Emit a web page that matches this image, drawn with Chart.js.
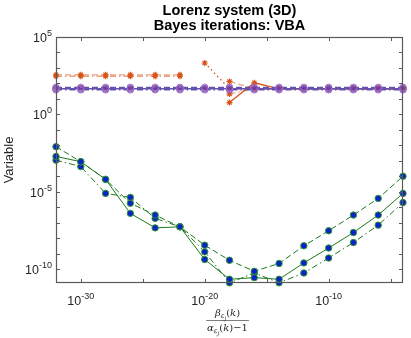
<!DOCTYPE html>
<html>
<head>
<meta charset="utf-8">
<script src="https://cdn.jsdelivr.net/npm/chart.js@4/dist/chart.umd.min.js"></script>
<style>
  html, body { margin: 0; background: #fff; }
</style>
</head>
<body>
<canvas id="chart" width="411" height="338"></canvas>
<script>
// x positions: beta/(alpha-1), every two decades
var ratioX = [1e-32, 1e-30, 1e-28, 1e-26, 1e-24, 1e-22, 1e-20, 1e-18, 1e-16, 1e-14, 1e-12, 1e-10, 1e-8, 1e-6, 1e-4];

// green (state) series
var greenDashed  = [8.1e-3, 8.7e-4, 6.3e-5, 1.8e-6, 3.1e-7, 5.4e-8, 3.5e-9, 3.7e-10, 7.2e-11, 2.3e-10, 3.2e-9, 3.0e-8, 3.1e-7, 3.7e-6, 1.0e-4];
var greenSolid   = [1.9e-3, 8.7e-4, 6.3e-5, 4.0e-7, 4.6e-8, 5.4e-8, 4.2e-10, 2.2e-11, 2.8e-11, 2.2e-11, 2.5e-10, 2.3e-9, 2.3e-8, 3.1e-7, 7.8e-6];
var greenDashDot = [1.1e-3, 4.2e-4, 7.8e-6, 4.3e-6, 1.9e-7, 5.4e-8, 1.3e-9, 1.3e-11, 5.6e-11, 1.3e-11, 5.6e-11, 5.2e-10, 5.2e-9, 6.9e-8, 2.0e-6];

// purple series
var purpleDashed  = [55, 55, 55, 55, 55, 55, 55, 55, 55, 55, 55, 55, 55, 55, 55];
var purpleSolid   = [45, 45, 45, 45, 45, 45, 45, 45, 45, 45, 45, 45, 45, 45, 45];
var purpleDashDot = [39, 39, 39, 39, 39, 39, 39, 39, 39, 39, 39, 39, 39, 39, 39];

// orange series (null = not plotted)
var orangeDashed  = [360, 360, 360, 360, 360, 360, null, 134, 45, 45, 45, 45, 45, 45, 45];
var orangeDashDot = [290, 290, 290, 290, 290, 290, null, 21, 45, 45, 45, 45, 45, 45, 45];
var orangeDotted  = [null, null, null, null, null, null, 2090, 45, 45, 45, 45, 45, 45, 45, 45];
var orangeSolid   = [null, null, null, null, null, null, null, 5.8, 110, 45, 45, 45, 45, 45, 45];

var xTicks = [1e-30, 1e-25, 1e-20, 1e-15, 1e-10, 1e-5];
var xLabels = { '-30': '-30', '-20': '-20', '-10': '-10' };
var yLabels = ['5', '0', '-5', '-10'];

function pts(vals) {
  return ratioX.map(function(x, i) { return { x: x, y: vals[i] }; });
}

var DASH = [6, 3], DASHDOT = [6, 3, 1.5, 3], DOT = [1.5, 3];
var GREEN = '#1b7a1b', PURPLE = '#6452b0', ORANGE = '#d95319';

function greenSet(vals, dash) {
  return { data: pts(vals), borderColor: GREEN, borderWidth: 1, borderDash: dash,
    pointRadius: 3.2, pointBackgroundColor: '#0b22c8', pointBorderColor: '#2e9a2e',
    pointBorderWidth: 1, clip: false };
}
function purpleSet(vals, dash) {
  return { data: pts(vals), borderColor: PURPLE, borderWidth: 1.5, borderDash: dash,
    pointRadius: 3.3, pointBackgroundColor: 'rgba(126,47,142,0.35)', pointBorderColor: '#9a6ccc',
    pointBorderWidth: 1, clip: false };
}
function orangeSet(vals, dash, alpha) {
  return { data: pts(vals), borderColor: 'rgba(217,83,25,' + alpha + ')', borderWidth: 1.3,
    borderDash: dash, pointStyle: 'star', pointRadius: 3, pointBorderColor: ORANGE,
    pointBorderWidth: 1.2, spanGaps: false, clip: false };
}

// axes box, inward ticks, 10^n labels, titles
var framePlugin = {
  id: 'frame',
  afterDatasetsDraw: function(chart) {
    var ctx = chart.ctx, a = chart.chartArea;
    var xs = chart.scales.x, ys = chart.scales.y;
    ctx.save();
    ctx.strokeStyle = '#5a5a5a';
    ctx.lineWidth = 1.2;
    ctx.strokeRect(a.left + 0.5, a.top + 0.5, a.right - a.left - 1, a.bottom - a.top - 1);

    ctx.lineWidth = 1;
    ctx.beginPath();
    xTicks.forEach(function(t) {
      var px = Math.round(xs.getPixelForValue(t)) + 0.5;
      ctx.moveTo(px, a.bottom); ctx.lineTo(px, a.bottom - 4);
      ctx.moveTo(px, a.top); ctx.lineTo(px, a.top + 4);
    });
    for (var e = -10; e <= 5; e++) {
      var py = Math.round(ys.getPixelForValue(Math.pow(10, e))) + 0.5;
      ctx.moveTo(a.left, py); ctx.lineTo(a.left + 4, py);
      ctx.moveTo(a.right, py); ctx.lineTo(a.right - 4, py);
    }
    ctx.stroke();

    ctx.fillStyle = '#262626';
    ctx.textBaseline = 'alphabetic';
    // x tick labels
    Object.keys(xLabels).forEach(function(k) {
      var px = xs.getPixelForValue(Math.pow(10, +k));
      drawPow(ctx, xLabels[k], px, 305, 'center');
    });
    // y tick labels
    yLabels.forEach(function(k) {
      var py = ys.getPixelForValue(Math.pow(10, +k));
      drawPow(ctx, k, a.left - 4, py + 5, 'right');
    });

    // title
    ctx.font = 'bold 14.5px "Liberation Sans", Arial, sans-serif';
    ctx.textAlign = 'center';
    ctx.fillStyle = '#000';
    var cx = (a.left + a.right) / 2;
    ctx.fillText('Lorenz system (3D)', cx, 15);
    ctx.fillText('Bayes iterations: VBA', cx, 30);

    // y axis title
    ctx.save();
    ctx.translate(13, (a.top + a.bottom) / 2);
    ctx.rotate(-Math.PI / 2);
    ctx.font = '13px "Liberation Sans", Arial, sans-serif';
    ctx.fillStyle = '#262626';
    ctx.fillText('Variable', 0, 0);
    ctx.restore();

    // x axis title: fraction
    drawFraction(ctx, cx - 2, 316, 331);
    ctx.restore();
  }
};

function drawPow(ctx, exp, x, y, align) {
  ctx.font = '12.5px "Liberation Sans", Arial, sans-serif';
  var wb = ctx.measureText('10').width;
  ctx.font = '9px "Liberation Sans", Arial, sans-serif';
  var we = ctx.measureText(exp).width;
  var x0 = align === 'center' ? x - (wb + we) / 2 : x - wb - we;
  ctx.textAlign = 'left';
  ctx.font = '12.5px "Liberation Sans", Arial, sans-serif';
  ctx.fillText('10', x0, y);
  ctx.font = '9px "Liberation Sans", Arial, sans-serif';
  ctx.fillText(exp, x0 + wb, y - 6);
}

function runs(ctx, parts) {
  var w = 0;
  parts.forEach(function(p) {
    ctx.font = p[2] + ' ' + p[1] + 'px "DejaVu Serif", "Liberation Serif", serif';
    p.w = ctx.measureText(p[0]).width;
    w += p.w;
  });
  return w;
}
function drawRuns(ctx, parts, x, y) {
  parts.forEach(function(p) {
    ctx.font = p[2] + ' ' + p[1] + 'px "DejaVu Serif", "Liberation Serif", serif';
    ctx.fillText(p[0], x, y + p[3]);
    x += p.w;
  });
}
function drawFraction(ctx, cx, yNum, yDen) {
  var num = [['β', 10, 'italic', 0], ['ε', 7, 'italic', 2], ['j', 5.5, 'italic', 4], ['(', 10, '', 0], ['k', 10, 'italic', 0], [')', 10, '', 0]];
  var den = [['α', 10, 'italic', 0], ['ε', 7, 'italic', 2], ['j', 5.5, 'italic', 4], ['(', 10, '', 0], ['k', 10, 'italic', 0], [')−1', 10, '', 0]];
  ctx.textAlign = 'left';
  ctx.fillStyle = '#262626';
  var wn = runs(ctx, num), wd = runs(ctx, den);
  drawRuns(ctx, num, cx - wn / 2, yNum);
  drawRuns(ctx, den, cx - wd / 2, yDen);
  var w = Math.max(wn, wd) + 2;
  ctx.strokeStyle = '#262626';
  ctx.lineWidth = 0.6;
  ctx.beginPath();
  ctx.moveTo(cx - w / 2, yNum + 4.5);
  ctx.lineTo(cx + w / 2, yNum + 4.5);
  ctx.stroke();
}

var ctx = document.getElementById('chart').getContext('2d');
new Chart(ctx, {
  type: 'line',
  data: {
    datasets: [
      purpleSet(purpleDashed, DASH),
      purpleSet(purpleSolid, []),
      purpleSet(purpleDashDot, DASHDOT),
      orangeSet(orangeDotted, DOT, 1),
      orangeSet(orangeSolid, [], 1),
      orangeSet(orangeDashed, DASH, 0.55),
      orangeSet(orangeDashDot, DASHDOT, 0.55),
      greenSet(greenDashed, DASH),
      greenSet(greenSolid, []),
      greenSet(greenDashDot, DASHDOT)
    ]
  },
  options: {
    responsive: false,
    devicePixelRatio: 1,
    animation: false,
    layout: { padding: { left: 56, right: 8, top: 37, bottom: 55 } },
    plugins: { legend: { display: false }, tooltip: { enabled: false } },
    scales: {
      x: { type: 'logarithmic', min: 1e-32, max: 1e-4, display: false },
      y: { type: 'logarithmic', min: 1.26e-11, max: 1e5, display: false }
    }
  },
  plugins: [framePlugin]
});
</script>
</body>
</html>
